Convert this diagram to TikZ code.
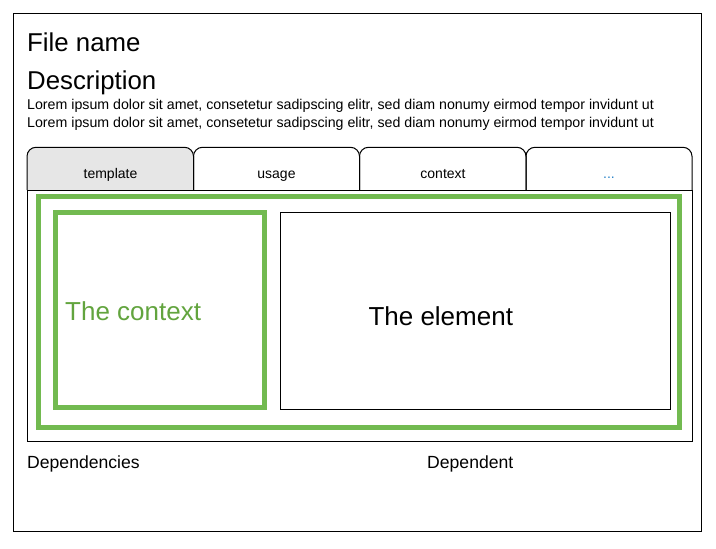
\documentclass[tikz,border=0pt]{standalone}
\usepackage{fontspec}
\setmainfont{Liberation Sans}
\usepackage{xcolor}
\usepackage{tikz}
\usetikzlibrary{positioning}

\definecolor{ctxgreen}{RGB}{114,186,80}
\definecolor{ctxtext}{RGB}{98,164,62}
\definecolor{tabgray}{RGB}{230,230,230}
\definecolor{dotblue}{RGB}{40,130,200}

\begin{document}
\begin{tikzpicture}[
  x=1pt,
  y=-1pt,
  frame/.style={
    draw,
    line width=1pt
  },
  tab/.style={
    draw,
    line width=1pt,
    rounded corners=9pt
  },
  ctx/.style={draw=ctxgreen, line width=5pt},
  big/.style={
    anchor=base west,
    inner sep=0pt,
    font=\fontsize{25.8}{30}\selectfont
  },
  lorem/.style={
    anchor=base west,
    inner sep=0pt,
    font=\fontsize{14.2}{17}\selectfont
  },
  tablabel/.style={
    anchor=base,
    inner sep=0pt,
    font=\fontsize{14}{17}\selectfont
  },
  foot/.style={
    anchor=base west,
    inner sep=0pt,
    font=\fontsize{17.6}{21}\selectfont
  }
]
\useasboundingbox (0,0) rectangle (716,549);

\draw[frame] (13,13) rectangle (701,531);

\node[big] (filename) at (27,51.7) {File name};
\node[big] (descr) at (27,89) {Description};
\node[lorem] (lorem1) at (27,109.7)
{Lorem ipsum dolor sit amet, consetetur sadipscing elitr, sed diam nonumy eirmod tempor invidunt ut};
\node[lorem] (lorem2) at (27,127.7)
{Lorem ipsum dolor sit amet, consetetur sadipscing elitr, sed diam nonumy eirmod tempor invidunt ut};

% tabs
\draw[tab, fill=tabgray] (27,190) -- (27,147.3) -- (193.5,147.3) -- (193.5,190);
\draw[tab] (193.5,190) -- (193.5,147.3) -- (359.5,147.3) -- (359.5,190);
\draw[tab] (359.5,190) -- (359.5,147.3) -- (526,147.3) -- (526,190);
\draw[tab] (526,190) -- (526,147.3) -- (692,147.3) -- (692,190);

\node[tablabel] (tmpl) at (110.5,178.3) {template};
\node[tablabel] (usage) at (276.5,178.3) {usage};
\node[tablabel] (cont) at (443,178.3) {context};
\node[tablabel, text=dotblue] (more) at (609,178.3) {...};

% panel
\draw[frame] (27,190) rectangle (692,441);
\draw[ctx] (38.5,196.5) rectangle (679.5,427.5);
\draw[ctx] (55.5,212.5) rectangle (264,407.5);
\draw[frame] (280.5,212.5) rectangle (670,409);

\node[big, font=\fontsize{26}{31}\selectfont, text=ctxtext] (context) at (65,320.7) {The context};
\node[big, font=\fontsize{26}{31}\selectfont] (element) at (368.3,325.7) {The element};

\node[foot] (deps) at (27,468.3) {Dependencies};
\node[foot] (dependent) at (427,468.3) {Dependent};

\end{tikzpicture}
\end{document}
